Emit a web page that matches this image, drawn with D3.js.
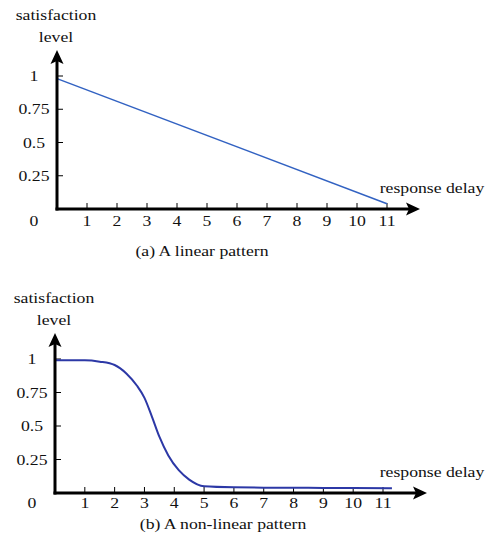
<!DOCTYPE html>
<html>
<head>
<meta charset="utf-8">
<script src="https://cdn.jsdelivr.net/npm/d3@7"></script>
<style>
  body { margin: 0; background: #fff; }
  text { font-family: "Liberation Serif", "Times New Roman", serif; font-size: 15px; fill: #111; }
</style>
</head>
<body>
<svg id="svg1" width="490" height="545"></svg>
<script>
// ticks
var xTicks = [1,2,3,4,5,6,7,8,9,10,11]
var yTicks = [1,0.75,0.5,0.25]
var yTickLabels = ["1","0.75","0.5","0.25"]

// (a) linear pattern
var linearX = [0, 11]
var linearY = [0.98, 0.04]

// (b) non-linear pattern
var curveX = [0, 1, 1.5, 2, 2.4, 2.75, 3, 3.25, 3.5, 3.8, 4.15, 4.5, 5, 6, 7, 8, 9, 10, 11.3]
var curveY = [0.99, 0.99, 0.98, 0.955, 0.89, 0.8, 0.71, 0.57, 0.42, 0.28, 0.17, 0.1, 0.05, 0.042, 0.04, 0.039, 0.038, 0.037, 0.035]

var svg = d3.select("#svg1")

// text in the picture is stretched sideways a bit
function label(g, x, y, str, anchor){
    g.append("text")
     .attr("transform", "translate(" + x + "," + y + ") scale(1.18,1)")
     .attr("text-anchor", anchor || "middle")
     .text(str)
}

function arrowHead(g, x, y, dir){
    // tip at (x,y), dir "right" or "up"
    var p = dir == "right"
        ? [[x,y],[x-14,y-6.5],[x-11,y],[x-14,y+6.5]]
        : [[x,y],[x-6.5,y+14],[x,y+11],[x+6.5,y+14]]
    g.append("path").attr("d", "M" + p.join("L") + "Z").attr("fill", "#000")
}

function panel(o){
    var g = svg.append("g")
    var x = d3.scaleLinear().domain([0, 11]).range([o.x0, o.x11])
    var y = d3.scaleLinear().domain([0, 1]).range([o.y0, o.y1])

    // x ticks point up into the plot
    g.selectAll(".xt").data(xTicks).join("line")
      .attr("x1", d => x(d)).attr("x2", d => x(d))
      .attr("y1", o.y0).attr("y2", o.y0 - 6)
      .attr("stroke", "#000").attr("stroke-width", 1)
    xTicks.forEach(d => label(g, x(d), o.y0 + o.xLabOff, d))

    // y ticks point right
    g.selectAll(".yt").data(yTicks).join("line")
      .attr("x1", o.x0).attr("x2", o.x0 + 6)
      .attr("y1", d => y(d)).attr("y2", d => y(d))
      .attr("stroke", "#000").attr("stroke-width", 1)
    yTicks.forEach((d,i) => label(g, o.yLabX, y(d) + 5, yTickLabels[i]))
    label(g, o.yLabX, o.y0 + o.xLabOff, "0")

    // data line
    g.append("path")
      .datum(o.xs.map((v,i) => [v, o.ys[i]]))
      .attr("fill", "none")
      .attr("stroke", o.color)
      .attr("stroke-width", o.lw)
      .attr("d", d3.line().x(d => x(d[0])).y(d => y(d[1])).curve(d3.curveMonotoneX))

    // axes with arrows
    g.append("line").attr("x1", o.x0 - 1.5).attr("x2", o.xTip - 8)
      .attr("y1", o.y0).attr("y2", o.y0).attr("stroke", "#000").attr("stroke-width", 3)
    g.append("line").attr("x1", o.x0).attr("x2", o.x0)
      .attr("y1", o.y0 + 1.5).attr("y2", o.yTip + 8).attr("stroke", "#000").attr("stroke-width", 3)
    arrowHead(g, o.xTip, o.y0, "right")
    arrowHead(g, o.x0, o.yTip, "up")

    label(g, o.x0 - 1, o.yTip - 30, "satisfaction")
    label(g, o.x0 - 1, o.yTip - 8, "level")
    label(g, 432, o.y0 - 16, "response delay")
    label(g, o.capX, o.capY, o.caption)
}

panel({x0: 57, x11: 387, y0: 209, y1: 76, xTip: 420, yTip: 50, xLabOff: 17, yLabX: 34,
       xs: linearX, ys: linearY, color: "#3262c2", lw: 1.5,
       caption: "(a) A linear pattern", capX: 202, capY: 256})

panel({x0: 55, x11: 383, y0: 493, y1: 359, xTip: 427, yTip: 333, xLabOff: 15, yLabX: 32,
       xs: curveX, ys: curveY, color: "#2c38a6", lw: 2,
       caption: "(b) A non-linear pattern", capX: 223, capY: 529})
</script>
</body>
</html>
